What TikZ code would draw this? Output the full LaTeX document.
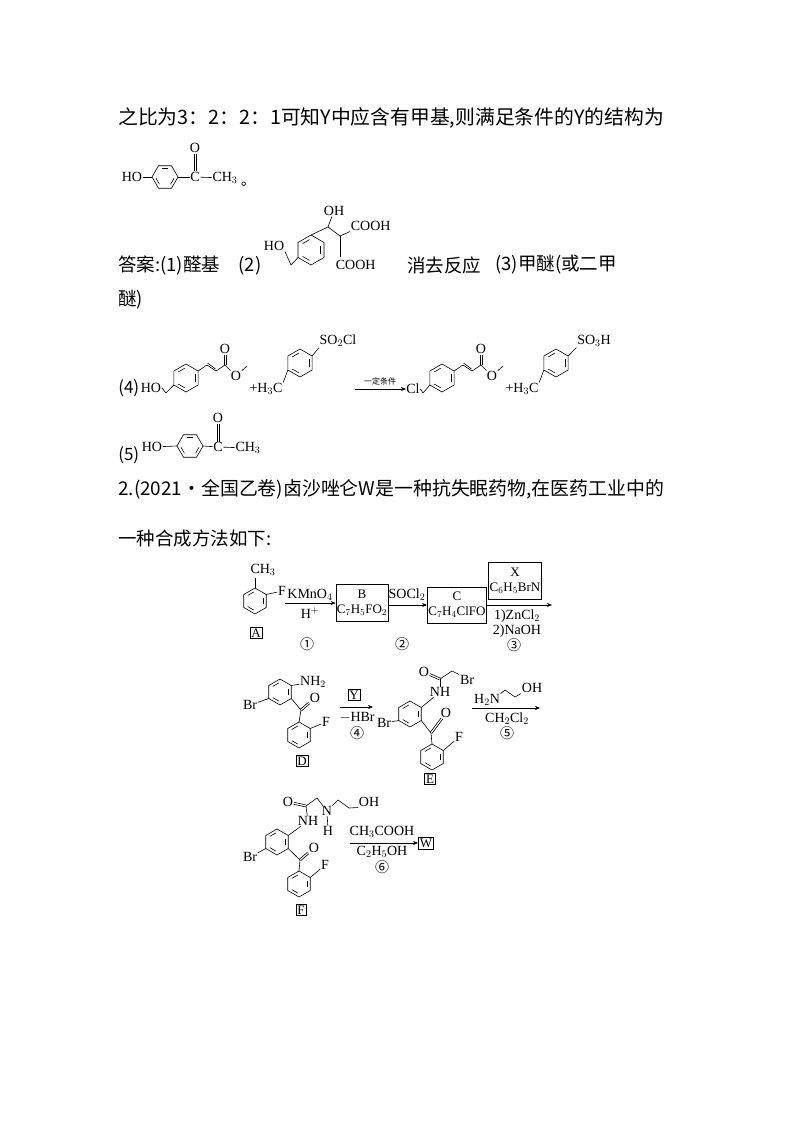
\documentclass[tikz,border=0pt]{standalone}
\usepackage{fontspec}
\setmainfont{Liberation Serif}
\newfontfamily\cjk{Noto Sans CJK SC}
\usetikzlibrary{calc,arrows.meta}
\newcommand\bz[5]{%
  \foreach \i in {1,...,6}{\coordinate (#1-\i) at ($(#2,#3)+({#5-60*\i}:#4)$);}
  \draw (#1-1)--(#1-2)--(#1-3)--(#1-4)--(#1-5)--(#1-6)--cycle;
  \foreach \a/\b in {1/2,3/4,5/6}{\draw ($(#2,#3)!0.75!($(#1-\a)!0.15!(#1-\b)$)$) -- ($(#2,#3)!0.75!($(#1-\b)!0.15!(#1-\a)$)$);}
}
\newcommand\db[4]{%
  \draw[transform canvas={xshift=#3pt,yshift=#4pt}] (#1) -- (#2);
  \draw[transform canvas={xshift=-#3pt,yshift=-#4pt}] (#1) -- (#2);}
\tikzset{
  ch/.style={inner sep=0.5pt,font=\fontsize{14}{15}\selectfont},
  tx/.style={inner sep=0pt,anchor=west,font=\cjk\fontsize{18.5}{20}\selectfont},
  bx/.style={draw,inner sep=1.5pt,font=\fontsize{13}{14}\selectfont},
  cn/.style={inner sep=0pt,font=\cjk\fontsize{14}{14}\selectfont},
  arr/.style={-{Stealth[length=5pt,width=4pt]}}
}
\begin{document}
\begin{tikzpicture}[x=1pt,y=-1pt,line width=0.6pt]
\useasboundingbox[fill=white] (0,0) rectangle (794,1123);
% text
\node[tx,font=\cjk\fontsize{19.8}{20}\selectfont] (l1) at (118,118) {之比为3：2：2：1可知Y中应含有甲基,则满足条件的Y的结构为};
\node[tx] (l2) at (118,265) {答案:(1)醛基\quad(2)};
\node[tx] (l3) at (407,265) {消去反应};
\node[tx] (l4) at (495,265) {(3)甲醚(或二甲};
\node[tx] (l5) at (118,300) {醚)};
\node[tx,font=\cjk\fontsize{18.9}{20}\selectfont] (q1) at (118,489) {2.(2021·全国乙卷)卤沙唑仑W是一种抗失眠药物,在医药工业中的};
\node[tx] (q2) at (118,538) {一种合成方法如下:};
% top molecule
\bz{t}{165}{177}{13}{0}
\node[ch] (tho) at (132,177) {HO};
\draw (tho) -- (t-3);
\node[ch] (tc) at (195,177) {C};
\node[ch] (to) at (195,148) {O};
\draw (t-6) -- (tc);
\db{tc}{to}{1}{0}
\node[ch] (tch) at (225,178) {CH$_3$};
\draw (tc) -- (tch);
\node[cn] (dot) at (248,184) {。};
% molecule (2)
\bz{m}{311}{250}{15}{90}
\node[ch] (mho) at (274,246) {HO};
\coordinate (m0) at (291,265);
\draw (mho.south east) -- (m0) -- (m-5);
\coordinate (mc1) at (328,227);
\coordinate (mc2) at (340,236);
\node[ch] (moh) at (334,211) {OH};
\draw (m-3) -- (mc1) -- (mc2);
\draw (mc1) -- (moh);
\node[ch,anchor=west] (mco1) at (350,226) {COOH};
\draw (mc2) -- (mco1.south west);
\node[ch,anchor=west] (mco2) at (335,265) {COOH};
\draw (mc2) -- (340,257);
% (4)
\node[tx,font=\cjk\fontsize{17}{18}\selectfont] (n4) at (118,388) {(4)};
\bz{p}{186}{378}{14}{90}
\node[ch] (pho) at (151,388) {HO};
\draw (pho.east) -- (166,393) -- (p-5);
\coordinate (pa) at (207,365); \coordinate (pb) at (216,371); \coordinate (pc) at (225,365);
\node[ch] (po) at (225,349) {O};
\node[ch] (poe) at (236,376) {O};
\draw (p-2) -- (pa); \draw (pa) -- (pb); \draw ($(pa)+(0.5,-2)$) -- ($(pb)+(-0.5,-2)$); \draw (pb) -- (pc);
\db{pc}{po}{1}{0} \draw (pc) -- (poe) -- (247,366);
\node[ch] (ph3c) at (266,389) {+H$_3$C};
\bz{q}{300}{363}{14}{90}
\draw (ph3c.north east) -- (q-5);
\node[ch] (qs) at (338,341) {SO$_2$Cl};
\draw (q-2) -- (qs.south west);
\coordinate (ar0) at (355,389); \coordinate (ar1) at (406,389);
\draw[arr] (ar0) -- (ar1);
\node[cn,font=\cjk\fontsize{8}{8}\selectfont] (cond) at (380,381) {一定条件};
\node[ch] (rcl) at (413,389) {Cl};
\bz{r}{442}{378}{14}{90}
\draw (rcl.east) -- (423,393) -- (r-5);
\coordinate (ra) at (463,365); \coordinate (rb) at (472,371); \coordinate (rc) at (481,365);
\node[ch] (ro) at (481,349) {O};
\node[ch] (roe) at (492,376) {O};
\draw (r-2) -- (ra); \draw (ra) -- (rb); \draw ($(ra)+(0.5,-2)$) -- ($(rb)+(-0.5,-2)$); \draw (rb) -- (rc);
\db{rc}{ro}{1}{0} \draw (rc) -- (roe) -- (503,366);
\node[ch] (rh3c) at (522,389) {+H$_3$C};
\bz{s}{556}{363}{14}{90}
\draw (rh3c.north east) -- (s-5);
\node[ch] (ss) at (594,341) {SO$_3$H};
\draw (s-2) -- (ss.south west);
% (5)
\node[tx,font=\cjk\fontsize{17}{18}\selectfont] (n5) at (118,455) {(5)};
\bz{u}{190}{446}{13}{0}
\node[ch] (uho) at (152,447) {HO};
\draw (uho) -- (u-3);
\node[ch] (uc) at (218,447) {C};
\node[ch] (uo) at (218,418) {O};
\draw (u-6) -- (uc); \db{uc}{uo}{1}{0}
\node[ch] (uch) at (248,448) {CH$_3$};
\draw (uc) -- (uch);
% ---- scheme ----
\bz{A}{255}{601}{13}{90}
\node[ch] (ach) at (263,570) {CH$_3$};
\draw (A-3) -- (255,578);
\node[ch] (af) at (282,591) {F};
\draw (A-2) -- (af);
\node[bx] (bA) at (256,633) {A};
\node[ch] (k1) at (310,595) {KMnO$_4$};
\node[ch] (k2) at (310,613) {H$^+$};
\node[cn] (c1) at (307,644) {①};
\node[bx,minimum width=49pt,minimum height=37pt,inner sep=1pt,align=center] (B) at (362,603) {B\\[1pt]C$_7$H$_5$FO$_2$};
\draw[arr] (285,603) -- (B.west);
\node[bx,minimum width=57pt,minimum height=36pt,inner sep=1pt,align=center] (C) at (457,605) {C\\[1pt]C$_7$H$_4$ClFO};
\draw[arr] (B.east|-C) -- (C.west);
\node[ch] (so) at (407,595) {SOCl$_2$};
\node[cn] (c2) at (402,644) {②};
\node[bx,minimum width=48pt,minimum height=37pt,inner sep=1pt,align=center] (X) at (515,581) {X\\[1pt]C$_6$H$_5$BrN};
\coordinate (a3) at (552,605);
\draw[arr] (C.east) -- (a3);
\node[ch] (z1) at (517,616) {1)ZnCl$_2$};
\node[ch] (z2) at (517,631) {2)NaOH};
\node[cn] (c3) at (514,645) {③};
% D
\bz{D}{280}{692}{13}{90}
\node[ch] (dnh) at (313,682) {NH$_2$};
\draw (D-2) -- (dnh);
\node[ch] (dbr) at (250,705) {Br};
\draw (D-5) -- (dbr);
\coordinate (dco) at (301,710);
\node[ch] (doo) at (315,698) {O};
\draw (D-1) -- (dco); \db{dco}{doo}{0.65}{-0.75}
\bz{Dl}{299}{735}{13}{90}
\draw (Dl-3) -- (dco);
\node[ch] (dff) at (326,722) {F};
\draw (Dl-2) -- (dff);
\node[bx] (bD) at (302,761) {D};
\draw[arr] (340,707) -- (373,707);
\node[bx] (bY) at (354,695) {Y};
\node[ch] (hbr) at (357,718) {$-$HBr};
\node[cn] (c4) at (357,733) {④};
% E
\bz{E}{410}{714}{13}{90}
\node[ch] (enh) at (440,692) {NH};
\draw (E-2) -- (enh);
\node[ch] (ebr) at (384,723) {Br};
\draw (E-5) -- (ebr);
\coordinate (ec) at (440,679);
\node[ch] (eo) at (424,672) {O};
\draw (enh) -- (ec); \db{ec}{eo}{0.4}{0.9}
\node[ch] (ebr2) at (467,680) {Br};
\draw (ec) -- (452,671) -- (ebr2.north west);
\coordinate (eco) at (431,733);
\node[ch] (eoo) at (446,713) {O};
\draw (E-1) -- (eco); \db{eco}{eoo}{0.8}{-0.6}
\bz{El}{432}{757}{13}{90}
\draw (El-3) -- (eco);
\node[ch] (eff) at (459,737) {F};
\draw (El-2) -- (eff);
\node[bx] (bE) at (430,779) {E};
\draw[arr] (472,708) -- (540,708);
\node[ch] (h2n) at (487,700) {H$_2$N};
\node[ch] (eoh) at (532,688) {OH};
\draw (h2n.north east) -- (505,690) -- (515,697) -- (eoh.south west);
\node[ch] (dcm) at (507,719) {CH$_2$Cl$_2$};
\node[cn] (c5) at (507,733) {⑤};
% F
\bz{F}{277}{842}{13}{90}
\node[ch] (fnh) at (308,821) {NH};
\draw (F-2) -- (fnh);
\node[ch] (fbr) at (250,857) {Br};
\draw (F-5) -- (fbr);
\coordinate (fc) at (306,806);
\node[ch] (fo) at (288,802) {O};
\draw (fnh) -- (fc); \db{fc}{fo}{0.3}{0.95}
\node[ch] (fn) at (327,811) {N};
\node[ch] (fh) at (328,831) {H};
\draw (fc) -- (317,798) -- (fn);
\draw (fn) -- (fh);
\node[ch] (foh) at (369,802) {OH};
\draw (fn) -- (338,800) -- (349,808) -- (foh.south west);
\coordinate (fco) at (300,860);
\node[ch] (foo) at (314,848) {O};
\draw (F-1) -- (fco); \db{fco}{foo}{0.65}{-0.75}
\bz{Fl}{299}{884}{13}{90}
\draw (Fl-3) -- (fco);
\node[ch] (fff) at (325,865) {F};
\draw (Fl-2) -- (fff);
\node[bx] (bF) at (301,910) {F};
\node[bx] (bW) at (426,843) {W};
\draw[arr] (350,843) -- (bW.west);
\node[ch] (ac) at (382,832) {CH$_3$COOH};
\node[ch] (et) at (382,852) {C$_2$H$_5$OH};
\node[cn] (c6) at (382,867) {⑥};
\end{tikzpicture}
\end{document}
